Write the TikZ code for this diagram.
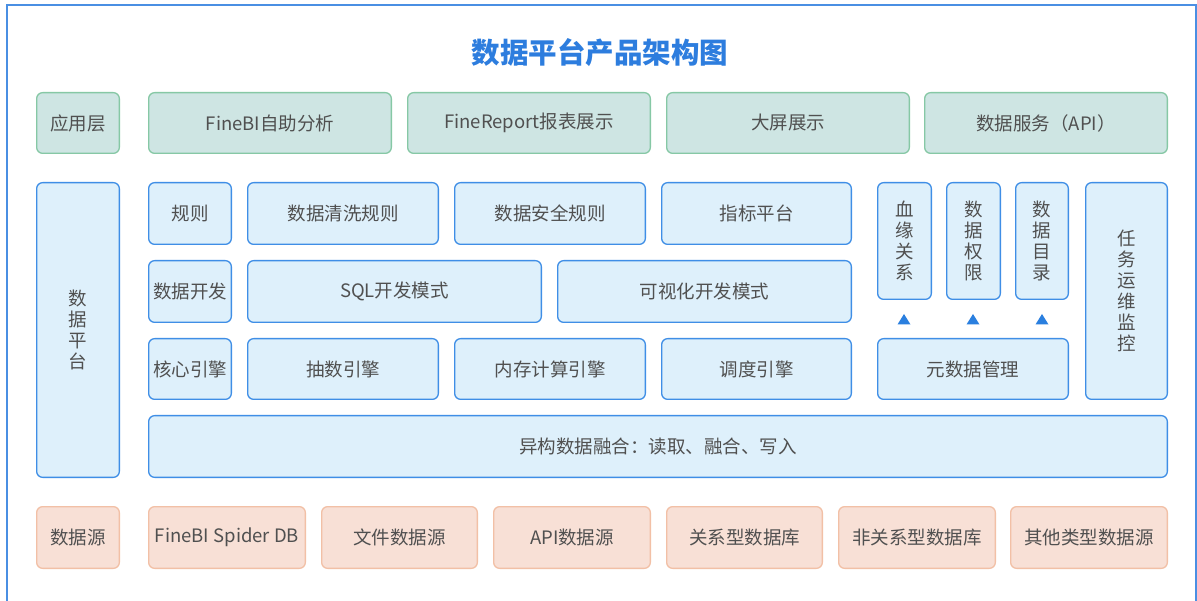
\documentclass[tikz,border=0pt]{standalone}
\usepackage{fontspec}
\setmainfont{Noto Sans CJK SC}
\definecolor{framec}{HTML}{4A8FE3}
\definecolor{titlec}{HTML}{2D7DDE}
\definecolor{txt}{HTML}{505050}
\definecolor{bfill}{HTML}{DEF0FB}
\definecolor{bdraw}{HTML}{3F8EE6}
\definecolor{gfill}{HTML}{CEE5E3}
\definecolor{gdraw}{HTML}{86C8A5}
\definecolor{ofill}{HTML}{F8E0D6}
\definecolor{odraw}{HTML}{F2C0A6}
\definecolor{tri}{HTML}{2A7FDF}
\tikzset{
  basebox/.style={rectangle, rounded corners=6pt, line width=1.3pt, inner sep=0pt, text=txt, font=\fontsize{18.5}{21}\selectfont, align=center},
  bluebox/.style={basebox, fill=bfill, draw=bdraw},
  greenbox/.style={basebox, fill=gfill, draw=gdraw},
  orangebox/.style={basebox, fill=ofill, draw=odraw},
  trimark/.style={fill=tri, draw=none},
}
% \bx{style}{name}{x1}{y1}{x2}{y2}{text}
\newcommand\bx[7]{\node[#1, minimum width={(#5-#3-1.3)*1pt}, minimum height={(#6-#4-1.3)*1pt}] (#2) at ({(#3+#5)/2},{(#4+#6)/2}) {#7};}
\begin{document}
\begin{tikzpicture}[x=1pt,y=-1pt]
\useasboundingbox (0,0) rectangle (1197,601);
\fill[white] (0,0) rectangle (1197,601);
\begin{scope}
\clip (0,0) rectangle (1197,601);
\draw[framec, line width=2pt] (7,630) -- (7,5) -- (1196,5) -- (1196,630);
\end{scope}
\node[text=titlec, font=\fontsize{28.5}{30}\selectfont\bfseries] (title) at (600,53) {数据平台产品架构图};
% application layer
\bx{greenbox}{app}{36}{92}{120}{154}{应用层}
\bx{greenbox}{a1}{148}{92}{392}{154}{FineBI自助分析}
\bx{greenbox}{a2}{407}{92}{651}{154}{FineReport报表展示}
\bx{greenbox}{a3}{666}{92}{910}{154}{大屏展示}
\bx{greenbox}{a4}{924}{92}{1168}{154}{数据服务（API）}
% platform
\bx{bluebox}{plat}{36}{182}{120}{478}{数\\据\\平\\台}
\bx{bluebox}{r0}{148}{182}{232}{245}{规则}
\bx{bluebox}{r1}{247}{182}{439}{245}{数据清洗规则}
\bx{bluebox}{r2}{454}{182}{646}{245}{数据安全规则}
\bx{bluebox}{r3}{661}{182}{852}{245}{指标平台}
\bx{bluebox}{d0}{148}{260}{232}{323}{数据开发}
\bx{bluebox}{d1}{247}{260}{542}{323}{SQL开发模式}
\bx{bluebox}{d2}{557}{260}{852}{323}{可视化开发模式}
\bx{bluebox}{e0}{148}{338}{232}{400}{核心引擎}
\bx{bluebox}{e1}{247}{338}{439}{400}{抽数引擎}
\bx{bluebox}{e2}{454}{338}{646}{400}{内存计算引擎}
\bx{bluebox}{e3}{661}{338}{852}{400}{调度引擎}
\bx{bluebox}{m1}{877}{182}{932}{300}{血\\缘\\关\\系}
\bx{bluebox}{m2}{946}{182}{1001}{300}{数\\据\\权\\限}
\bx{bluebox}{m3}{1015}{182}{1069}{300}{数\\据\\目\\录}
\bx{bluebox}{meta}{877}{338}{1069}{400}{元数据管理}
\bx{bluebox}{ops}{1085}{182}{1168}{400}{\fontsize{18.5}{19.5}\selectfont 任\\务\\运\\维\\监\\控}
\bx{bluebox}{fuse}{148}{415}{1168}{478}{异构数据融合：读取、融合、写入}
% triangles
\foreach \cx in {904,973,1042}{
  \fill[trimark] (\cx-6.5,324.5) -- (\cx,314) -- (\cx+6.5,324.5) -- cycle;
}
% data sources
\bx{orangebox}{src}{36}{506}{120}{569}{数据源}
\bx{orangebox}{s1}{148}{506}{306}{569}{FineBI Spider DB}
\bx{orangebox}{s2}{321}{506}{478}{569}{文件数据源}
\bx{orangebox}{s3}{493}{506}{651}{569}{API数据源}
\bx{orangebox}{s4}{666}{506}{823}{569}{关系型数据库}
\bx{orangebox}{s5}{838}{506}{996}{569}{非关系型数据库}
\bx{orangebox}{s6}{1010}{506}{1168}{569}{其他类型数据源}
\end{tikzpicture}
\end{document}
